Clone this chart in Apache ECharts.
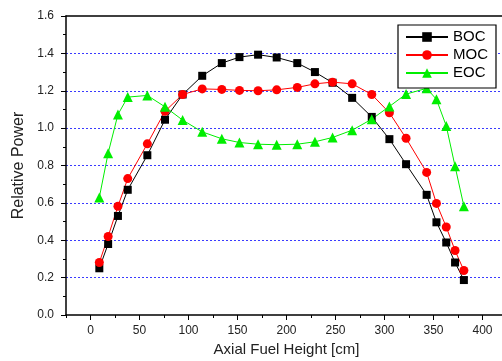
<!DOCTYPE html>
<html><head><meta charset="utf-8">
<script src="https://cdn.jsdelivr.net/npm/echarts@6/dist/echarts.min.js"></script>
<style>html,body{margin:0;padding:0;background:#fff}#c{width:502px;height:361px}</style>
</head><body><div id="c"></div>
<script>
const heights = [9, 18, 28, 38, 58, 76, 94, 114, 134, 152, 171, 190, 211, 229, 247, 267, 287, 305, 322, 343, 353, 363, 372, 381];
const boc = [0.25, 0.38, 0.53, 0.67, 0.855, 1.045, 1.18, 1.28, 1.348, 1.38, 1.393, 1.378, 1.348, 1.30, 1.243, 1.162, 1.06, 0.941, 0.807, 0.643, 0.496, 0.388, 0.281, 0.187];
const moc = [0.281, 0.42, 0.582, 0.73, 0.916, 1.09, 1.18, 1.21, 1.207, 1.202, 1.2, 1.205, 1.218, 1.237, 1.246, 1.237, 1.18, 1.082, 0.946, 0.763, 0.597, 0.471, 0.345, 0.238];
const eoc = [0.629, 0.866, 1.073, 1.166, 1.175, 1.114, 1.043, 0.98, 0.943, 0.923, 0.914, 0.911, 0.914, 0.927, 0.950, 0.989, 1.048, 1.116, 1.182, 1.213, 1.154, 1.012, 0.796, 0.582];
const seriesNames = ['BOC', 'MOC', 'EOC'];
const xTickLabels = [0, 50, 100, 150, 200, 250, 300, 350, 400];
const xMinorTicks = [-25, 25, 75, 125, 175, 225, 275, 325, 375, 425];
const xTitle = 'Axial Fuel Height [cm]';
const yTitle = 'Relative Power';

const pair = v => heights.map((h, i) => [h, v[i]]);
const font = 'Arial, "Liberation Sans", sans-serif';
const chart = echarts.init(document.getElementById('c'), null, {renderer: 'canvas'});
const xBase = {type: 'value', min: -25, max: 425};
chart.setOption({
  animation: false,
  grid: {left: 66, top: 16, width: 441, height: 299, containLabel: false, outerBoundsMode: 'none'},
  legend: {
    data: seriesNames, orient: 'vertical', left: 398, top: 25,
    padding: [3, 8, 6, 7], itemGap: 0,
    borderColor: '#000', borderWidth: 1.2, backgroundColor: '#fff',
    itemWidth: 42, itemHeight: 12,
    textStyle: {fontFamily: font, fontSize: 15, color: '#000', lineHeight: 18, padding: [0, 0, 0, 0]}
  },
  xAxis: [Object.assign({}, xBase, {
    position: 'bottom',
    name: xTitle, nameLocation: 'middle', nameGap: 27,
    nameTextStyle: {fontFamily: font, fontSize: 15, color: '#222'},
    axisLine: {onZero: false, lineStyle: {color: '#000', width: 1.5}},
    axisTick: {show: true, inside: false, length: 5, customValues: xTickLabels, lineStyle: {color: '#000'}},
    axisLabel: {fontFamily: font, fontSize: 12, color: '#222', margin: 10, customValues: xTickLabels},
    splitLine: {show: false}
  }), Object.assign({}, xBase, {
    position: 'top',
    axisLine: {onZero: false, lineStyle: {color: '#000', width: 1.5}},
    axisTick: {show: false}, axisLabel: {show: false}, splitLine: {show: false}
  }), Object.assign({}, xBase, {
    position: 'bottom', offset: 0,
    axisLine: {show: false},
    axisTick: {show: true, inside: false, length: 3, customValues: xMinorTicks, lineStyle: {color: '#000'}},
    axisLabel: {show: false}, splitLine: {show: false}
  })],
  yAxis: {
    type: 'value', min: 0, max: 1.6, interval: 0.2,
    name: yTitle, nameLocation: 'middle', nameGap: 39,
    nameTextStyle: {fontFamily: font, fontSize: 16, color: '#222'},
    axisLine: {onZero: false, lineStyle: {color: '#000', width: 1.5}},
    axisTick: {show: true, inside: false, length: 5, lineStyle: {color: '#000'}},
    minorTick: {show: true, splitNumber: 2, length: 3, lineStyle: {color: '#000'}},
    axisLabel: {fontFamily: font, fontSize: 12, color: '#222', margin: 12,
      formatter: v => v.toFixed(1)},
    splitLine: {show: true, lineStyle: {color: '#3a3aff', type: [2, 2], width: 1},
      showMinLine: false, showMaxLine: false}
  },
  series: [
    {name: seriesNames[0], type: 'line', data: pair(boc), symbol: 'rect', symbolSize: 8,
     lineStyle: {color: '#000', width: 1}, itemStyle: {color: '#000'}},
    {name: seriesNames[1], type: 'line', data: pair(moc), symbol: 'circle', symbolSize: 9,
     lineStyle: {color: '#ff0000', width: 1}, itemStyle: {color: '#ff0000'}},
    {name: seriesNames[2], type: 'line', data: pair(eoc), symbol: 'triangle', symbolSize: 10,
     lineStyle: {color: '#00ee00', width: 1}, itemStyle: {color: '#00ee00'}}
  ]
});
</script></body></html>
